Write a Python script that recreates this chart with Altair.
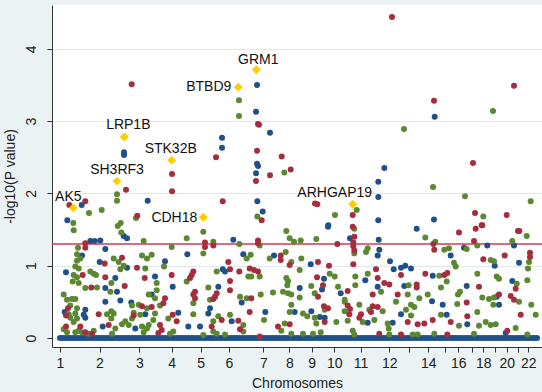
import altair as alt
import pandas as pd

# ---------------- data ----------------
chrom_names = ['1', '2', '3', '4', '5', '6', '7', '8', '9', '10', '11', '12',
               '13', '14', '15', '16', '17', '18', '19', '20', '21', '22']
chrom_start = [0, 39.5, 79.3, 111.7, 140.7, 169, 203.3, 229.3, 251.7, 274.3, 300.5, 329.3,
               349.3, 368.3, 385, 398.3, 411.7, 423.3, 435, 446.7, 458.3, 468.3]
chrom_shown = ['1', '2', '3', '4', '5', '6', '7', '8', '9', '10', '11', '12',
               '', '14', '', '16', '', '18', '', '20', '', '22']

threshold = 1.30103  # -log10(0.05)

blue_pts = [
    (21.7, 1.84), (7.3, 1.63), (64, 2.57), (64, 2.53), (87.7, 1.90), (162, 2.77), (162, 2.63),
    (197, 3.50), (196, 3.13), (210, 2.84), (197, 2.41), (198, 2.38), (196, 2.28), (197.3, 1.89),
    (202.7, 1.75), (268.3, 1.56), (318.3, 2.16), (318.3, 1.95), (324.3, 2.35), (318.3, 1.63),
    (374.7, 3.06), (374, 1.64),
    (63.7, 1.41), (67, 1.38), (30.3, 1.34), (34.7, 1.34), (40.3, 1.35), (22, 1.14), (45.3, 1.23),
    (39.7, 1.05), (67, 0.97), (6, 0.91), (55.3, 0.83), (45.3, 0.69), (57, 0.64), (45.3, 0.50),
    (60.3, 0.52), (71.3, 0.49), (4.7, 0.36), (25.3, 0.39), (23.7, 0.32), (25.3, 0.28), (85.3, 0.33),
    (42.7, 0.16), (75.3, 0.13),
    (173.3, 1.36), (127.3, 1.16), (105, 1.06), (183.3, 1.16), (162.7, 0.95), (165, 0.92), (95, 0.85),
    (112.7, 0.71), (158.3, 0.71), (91.7, 0.60), (150, 0.41), (181.7, 0.49), (118.3, 0.35),
    (148.3, 0.34), (171.7, 0.23), (128.3, 0.16), (140, 0.16),
    (268, 1.54), (214, 1.14), (250.7, 1.02), (264, 0.82), (262, 0.67), (239.7, 0.69), (280.7, 0.62),
    (205.3, 0.36), (234.7, 0.36), (251.3, 0.37), (259.7, 0.29), (264.7, 0.28),
    (290, 1.38), (318.7, 1.36), (319.3, 1.22), (317.7, 1.14), (356.7, 1.51), (330, 1.06),
    (317.7, 0.71), (333.7, 0.95), (341, 0.97), (345.3, 1.00), (351, 0.96), (305.3, 0.80),
    (344.3, 0.72), (372.7, 0.86), (372, 0.51), (382.7, 0.46), (307.7, 0.21), (332.7, 0.21), (341, 0.33),
    (427.3, 1.28), (404, 1.25), (454, 1.28), (390.7, 1.14), (459, 1.04), (434.7, 1.00), (452.3, 0.79),
    (406.7, 0.72), (436.7, 0.57), (439, 0.46), (386.7, 0.32), (407.3, 0.19), (445.7, 0.07),
]

red_pts = [
    (9.3, 1.84), (25.3, 1.89), (66, 2.05), (77.3, 1.69), (71.7, 3.51), (112, 2.27), (112, 2.03),
    (156, 2.50), (198, 2.96), (199, 2.95), (197, 2.59), (210, 2.25), (196, 2.17), (221.7, 2.51),
    (230.7, 2.33), (162.7, 1.89), (201.7, 1.63), (255, 1.86), (257.3, 1.85), (292.7, 1.70),
    (292.7, 1.54), (332, 4.44), (374, 3.28), (454, 3.49), (413, 2.42), (415, 1.73), (421.7, 1.56),
    (446.7, 1.70), (459.3, 1.48),
    (25.3, 1.31), (25.3, 1.25), (44.7, 1.03), (62, 1.11), (77, 0.97), (22.7, 0.87), (45.3, 0.84),
    (84.7, 0.83), (31.3, 0.70), (64.7, 0.72), (82, 0.44), (8, 0.41), (6, 0.31), (38.7, 0.33),
    (73.7, 0.31), (6, 0.16), (20.3, 0.16), (25.3, 0.08), (32, 0.06), (48.7, 0.18),
    (145, 1.32), (145, 1.26), (153.3, 1.28), (170, 0.95), (168.3, 1.05), (133.3, 0.92), (131.7, 0.87),
    (130, 0.83), (111.7, 0.87), (179.3, 0.92), (170, 0.79), (135, 0.64), (133.3, 0.60), (135, 0.55),
    (156.7, 0.62), (155, 0.57), (153.3, 0.54), (105, 0.55), (103.3, 0.48), (170, 0.66), (91.7, 0.43),
    (112.7, 0.32), (116.7, 0.23), (161.7, 0.25), (178.3, 0.24), (100, 0.18), (101.7, 0.11),
    (98.3, 0.07), (151.7, 0.16), (180, 0.12),
    (198, 1.35), (198, 1.31), (277.3, 1.30), (220.7, 1.14), (220.7, 1.08), (229.7, 1.01), (189.7, 0.96),
    (194, 0.94), (198, 0.92), (258, 1.05), (269, 1.00), (257, 0.84), (263, 0.73), (258, 0.57),
    (191.3, 0.55), (264, 0.44), (268, 0.41), (189.7, 0.36), (229.7, 0.19), (218, 0.16), (264.7, 0.22),
    (199.7, 0.02),
    (294.3, 1.40), (293.3, 1.32), (293.3, 1.27), (294.3, 1.21), (293.3, 1.02), (373.3, 1.30),
    (374.3, 1.22), (316, 0.95), (317.7, 0.83), (324.3, 0.76), (341, 0.87), (329.3, 0.74), (356.7, 0.74),
    (356.7, 0.70), (365.3, 0.89), (384.3, 0.87), (287.7, 0.65), (312.7, 0.60), (337.7, 0.60),
    (287.7, 0.45), (290, 0.40), (289.3, 0.33), (312.7, 0.44), (311, 0.36), (317.7, 0.43), (301, 0.33),
    (299.3, 0.28), (347.7, 0.22), (357.7, 0.19), (364.3, 0.20), (372.7, 0.25), (319.3, 0.06), (341, 0.05),
    (399, 1.46), (415.7, 1.51), (422.3, 1.56), (458, 1.48), (414, 1.34), (470, 1.18), (470, 1.12),
    (444.7, 1.14), (423.3, 1.09), (387.3, 0.90), (455.7, 0.68), (419, 0.71), (406.7, 0.49), (439, 0.60),
    (450.7, 0.58), (454, 0.53), (460.7, 0.32), (390.7, 0.22), (407.3, 0.30), (447.3, 0.10), (387.3, 0.05),
]

green_pts = [
    (29, 1.73), (41.7, 1.77), (13.3, 1.59), (57, 1.99), (57, 1.90), (76, 1.66), (60.7, 1.59),
    (179, 3.29), (179, 3.07), (224.3, 2.29), (197.3, 1.68), (275, 1.70), (296.7, 1.77), (344, 2.89),
    (433, 3.14), (373, 2.09), (405, 1.96), (423.3, 1.68), (470.7, 1.89),
    (13.7, 1.49), (57.7, 1.55), (61.3, 1.46), (18, 1.25), (20.3, 1.10), (17, 1.16), (17, 1.07),
    (83.7, 1.34), (82, 1.14), (87, 1.10), (53.7, 1.10), (58.7, 1.05), (63.7, 1.00), (60.3, 0.95),
    (85.3, 0.96), (15.3, 0.99), (18.7, 0.96), (13.7, 0.87), (17, 0.84), (12.7, 0.78), (18.7, 0.76),
    (30.3, 0.92), (33.7, 0.89), (36, 0.87), (51.3, 0.76), (25.3, 0.69), (37, 0.70), (50.3, 0.64),
    (3.7, 0.60), (7, 0.53), (12, 0.54), (15.3, 0.54), (88.7, 0.60), (72, 0.45), (78.7, 0.46),
    (87, 0.41), (10.3, 0.45), (8.7, 0.33), (10.3, 0.28), (17, 0.41), (15.3, 0.34), (17, 0.27),
    (13.7, 0.22), (51.3, 0.37), (53.7, 0.34), (51.3, 0.27), (47, 0.33), (73.7, 0.35), (72, 0.27),
    (62, 0.19), (65.3, 0.23), (68.7, 0.18), (80.3, 0.32), (88.7, 0.18), (82, 0.16), (87, 0.13),
    (83.7, 0.08), (3.7, 0.12), (7, 0.08), (18.7, 0.10), (22, 0.08), (15.3, 0.08), (28.7, 0.06),
    (33.7, 0.10), (52, 0.06), (55.3, 0.13),
    (143.3, 1.47), (143.3, 1.17), (126.7, 1.38), (111.7, 1.26), (153.3, 1.33), (179.3, 1.30),
    (104, 0.99), (91.7, 1.15), (186.7, 1.10), (156.7, 0.92), (96.7, 0.76), (126.7, 0.78), (188.3, 0.85),
    (148.3, 0.70), (96.7, 0.66), (95, 0.55), (100, 0.45), (150, 0.53), (133.3, 0.48), (180, 0.57),
    (186.7, 0.55), (95, 0.34), (93.3, 0.25), (108.3, 0.27), (133.3, 0.33), (158.3, 0.30), (153.3, 0.23),
    (170, 0.32), (183.3, 0.18), (110, 0.06), (113.3, 0.09), (153.3, 0.09), (143.3, 0.04), (156.7, 0.06),
    (165, 0.05), (183.3, 0.09),
    (226.3, 1.48), (229.7, 1.38), (234, 1.33), (240.7, 1.35), (256.3, 1.37), (199.7, 1.28), (225.7, 1.19),
    (209.7, 1.10), (231.3, 1.05), (241.3, 1.10), (190.7, 1.15), (191.3, 0.85), (199.7, 0.85),
    (239.7, 0.94), (269.7, 0.89), (274.7, 0.85), (226.3, 0.83), (228, 0.79), (227.3, 0.73),
    (251.3, 0.72), (254.7, 0.62), (223, 0.64), (228, 0.62), (231.3, 0.60), (213, 0.63), (200.7, 0.60),
    (278, 0.71), (284.7, 0.53), (239.7, 0.56), (231.3, 0.46), (264.7, 0.39), (284.7, 0.50), (204, 0.25),
    (229.7, 0.36), (243, 0.34), (247.3, 0.30), (224.7, 0.20), (254.7, 0.28), (256.3, 0.20), (276.3, 0.22),
    (284.7, 0.37), (221.3, 0.10), (243, 0.06), (253, 0.06), (260.7, 0.08), (231.3, 0.06),
    (294.3, 1.51), (294.3, 1.17), (365.3, 1.39), (375.3, 1.33), (384.3, 1.22), (307.7, 1.24), (306, 1.19),
    (307.7, 0.89), (295.3, 0.85), (295.3, 0.73), (348.7, 0.73), (379.3, 0.86), (321, 0.64), (347.7, 0.60),
    (359.3, 0.55), (351, 0.46), (354.3, 0.43), (336, 0.50), (367.7, 0.60), (381, 0.70), (287.7, 0.24),
    (299.3, 0.46), (309.3, 0.39), (302.7, 0.22), (314.3, 0.25), (322.7, 0.37), (327.7, 0.20),
    (328.7, 0.13), (346, 0.39), (351, 0.31), (381, 0.32), (292.7, 0.10), (294.3, 0.05), (329.3, 0.05),
    (352.7, 0.05), (357.7, 0.05), (374.3, 0.06),
    (466.7, 1.41), (417.3, 1.28), (406.7, 1.23), (452.3, 1.34), (389, 1.24), (469, 1.05), (434, 1.06),
    (430.7, 1.08), (394, 1.04), (395.7, 0.99), (468, 0.96), (417.3, 0.89), (436.7, 0.85), (439, 0.82),
    (456.7, 0.75), (467.3, 0.80), (386.7, 0.78), (400, 0.64), (398, 0.60), (422.3, 0.56), (429, 0.54),
    (434, 0.56), (433.3, 0.46), (459, 0.50), (471.3, 0.46), (475.7, 0.32), (397.3, 0.47), (399, 0.17),
    (417.3, 0.36), (425.7, 0.22), (419, 0.17), (430.7, 0.18), (435.7, 0.19), (455.7, 0.14), (414, 0.06),
    (467.3, 0.05),
]

# genes with P = 1 (the dense band on the axis)
zero_pos = [0, 3, 6, 9, 12, 15, 18, 21, 24, 27, 30, 33, 36, 39, 42, 45, 48, 51, 54, 57, 60, 63,
            66, 69, 72, 75, 78, 81, 84, 87, 90, 93, 96, 99, 102, 105, 108, 111, 114, 117, 120,
            123, 126, 129, 132, 135, 138, 141, 144, 147, 150, 153, 156, 159, 162, 165, 168, 171,
            174, 177, 180, 183, 186, 189, 192, 195, 198, 201, 204, 207, 210, 213, 216, 219, 222,
            225, 228, 231, 234, 237, 240, 243, 246, 249, 252, 255, 258, 261, 264, 267, 270, 273,
            276, 279, 282, 285, 288, 291, 294, 297, 300, 303, 306, 309, 312, 315, 318, 321, 324,
            327, 330, 333, 336, 339, 342, 345, 348, 351, 354, 357, 360, 363, 366, 369, 372, 375,
            378, 381, 384, 387, 390, 393, 396, 399, 402, 405, 408, 411, 414, 417, 420, 423, 426,
            429, 432, 435, 438, 441, 444, 447, 450, 453, 456, 459, 462, 465, 468, 471, 474, 477]

genes = ['AK5', 'SH3RF3', 'LRP1B', 'STK32B', 'CDH18', 'BTBD9', 'GRM1', 'ARHGAP19']
gene_pos = [13.3, 57, 64.3, 111.7, 143.3, 178.3, 196.3, 292.7]
gene_logp = [1.80, 2.17, 2.78, 2.46, 1.67, 3.47, 3.71, 1.85]

# ---------------- styling ----------------
BLUE, RED, GREEN, GOLD = '#1f5089', '#a62d3d', '#5b8830', '#ffcc00'
FONT = 'Liberation Sans'
label_style = {  # dx, dy, align
    'AK5': (-5, -11, 'center'), 'SH3RF3': (0, -11, 'center'), 'LRP1B': (4, -12, 'center'),
    'STK32B': (-1, -11, 'center'), 'CDH18': (-6, 1, 'right'), 'BTBD9': (-7, 0, 'right'),
    'GRM1': (2, -10, 'center'), 'ARHGAP19': (-18, -11, 'center'),
}

rows = []
for grp, pts in (('blue', blue_pts), ('red', red_pts), ('green', green_pts)):
    for x, y in pts:
        rows.append({'pos': x, 'logp': y, 'grp': grp})
pts_df = pd.DataFrame(rows)
zero_df = pd.DataFrame({'pos': zero_pos, 'logp': [0.0] * len(zero_pos)})
gene_df = pd.DataFrame({'gene': genes, 'pos': gene_pos, 'logp': gene_logp})

label_expr = ' : '.join(f"datum.value == {v} ? '{t}'" for v, t in zip(chrom_start, chrom_shown)) + " : ''"

x_scale = alt.Scale(domain=[-8, 482], nice=False, zero=False)
y_scale = alt.Scale(domain=[-0.1245, 4.606], nice=False, zero=False)

x_enc = alt.X('pos:Q', scale=x_scale, axis=alt.Axis(
    values=chrom_start, labelExpr=label_expr, title='Chromosomes', grid=False,
    tickSize=5, labelPadding=4, titlePadding=6, labelFontSize=14, titleFontSize=14,
    labelFont=FONT, titleFont=FONT, titleFontWeight='normal', labelColor='#222',
    titleColor='#222', domainColor='#333', tickColor='#333', labelFlush=False, labelOverlap=False))
y_enc = alt.Y('logp:Q', scale=y_scale, axis=alt.Axis(
    values=[0, 1, 2, 3, 4], format='d', title='-log10(P value)', grid=True,
    gridColor='#dce8ec', gridWidth=1, tickSize=5, labelAngle=270, labelAlign='center',
    labelBaseline='bottom', labelPadding=9, titlePadding=7, labelFontSize=14, titleFontSize=14,
    labelFont=FONT, titleFont=FONT, titleFontWeight='normal', labelColor='#222',
    titleColor='#222', domainColor='#333', tickColor='#333', labelFlush=False))

base = alt.Chart(pts_df)

zero_layer = alt.Chart(zero_df).mark_circle(size=36, opacity=1, color=BLUE).encode(x=x_enc, y=y_enc)
thr_layer = alt.Chart(pd.DataFrame({'t': [threshold]})).mark_rule(
    color='#cc3d55', strokeWidth=1.5).encode(y=alt.Y('t:Q', scale=y_scale))
pt_layer = base.mark_circle(size=36, opacity=1).encode(
    x=x_enc, y=y_enc,
    color=alt.Color('grp:N', scale=alt.Scale(domain=['blue', 'red', 'green'],
                                             range=[BLUE, RED, GREEN]), legend=None),
    order=alt.Order('grp:N'))
dia_layer = alt.Chart(gene_df).mark_point(shape='diamond', filled=True, size=80, opacity=1,
                                          color=GOLD).encode(x=x_enc, y=y_enc)

text_layers = []
for g in genes:
    dx, dy, al = label_style[g]
    text_layers.append(
        alt.Chart(gene_df).transform_filter(alt.datum.gene == g).mark_text(
            dx=dx, dy=dy, align=al, baseline='middle', font=FONT, fontSize=14, color='#111'
        ).encode(x=x_enc, y=y_enc, text='gene:N'))

chart = alt.layer(zero_layer, thr_layer, pt_layer, dia_layer, *text_layers).properties(
    width=490, height=342,
    autosize=alt.AutoSizeParams(type='none'),
    padding={'left': 52, 'top': 5, 'right': 0, 'bottom': 45},
    background='#eaf2f3',
).configure_view(fill='white', stroke=None)

chart.save('out.html', embed_options={'renderer': 'svg', 'actions': False})
